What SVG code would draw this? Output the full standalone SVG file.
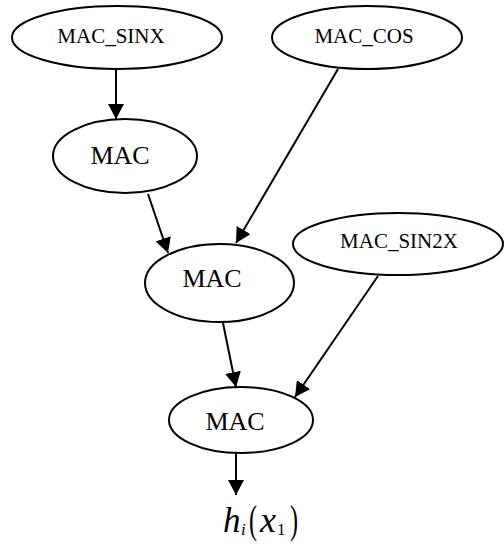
<svg xmlns="http://www.w3.org/2000/svg" width="504" height="544" viewBox="0 0 504 544">
  <style>
    .node ellipse { fill: #ffffff; stroke: #000000; stroke-width: 2; }
    .small { font-family: "Liberation Serif", "Times New Roman", serif; font-size: 21px; fill: #000000; text-anchor: middle; }
    .big { font-family: "Liberation Serif", "Times New Roman", serif; font-size: 26px; fill: #000000; text-anchor: middle; }
    .edge { stroke: #000000; stroke-width: 2; fill: none; marker-end: url(#arrow); }
    .math { font-family: "Liberation Serif", "Times New Roman", serif; fill: #000000; }
  </style>
  <defs>
    <marker id="arrow" markerUnits="userSpaceOnUse" markerWidth="16" markerHeight="16" refX="15" refY="8" orient="auto">
      <path d="M0,0 L15,8 L0,16 z" fill="#000000"/>
    </marker>
  </defs>
  <rect width="504" height="544" fill="#ffffff"/>

  <g id="connectors">
    <line class="edge" x1="116" y1="69" x2="116" y2="119"/>
    <line class="edge" x1="148" y1="194" x2="168" y2="253"/>
    <line class="edge" x1="338" y1="69" x2="236" y2="243"/>
    <line class="edge" x1="223" y1="323" x2="236" y2="387"/>
    <line class="edge" x1="378" y1="276" x2="295" y2="397"/>
    <line class="edge" x1="236" y1="453" x2="236" y2="495"/>
  </g>

  <g id="mac_sinx" class="node">
    <ellipse cx="117" cy="37.5" rx="105" ry="31.5"/>
    <text class="small" x="111" y="43">MAC_SINX</text>
  </g>
  <g id="mac_cos" class="node">
    <ellipse cx="367" cy="37.5" rx="95" ry="31.5"/>
    <text class="small" x="364" y="43">MAC_COS</text>
  </g>
  <g id="mac1" class="node">
    <ellipse cx="125" cy="156" rx="72" ry="37"/>
    <text class="big" x="120" y="164">MAC</text>
  </g>
  <g id="mac2" class="node">
    <ellipse cx="219.5" cy="283" rx="74.5" ry="39"/>
    <text class="big" x="212" y="287">MAC</text>
  </g>
  <g id="mac_sin2x" class="node">
    <ellipse cx="398" cy="244" rx="105" ry="31"/>
    <text class="small" x="399" y="248">MAC_SIN2X</text>
  </g>
  <g id="mac3" class="node">
    <ellipse cx="241" cy="420" rx="72" ry="33"/>
    <text class="big" x="235" y="430">MAC</text>
  </g>

  <!-- h_i(x_1) with tall, narrow parentheses -->
  <g id="output_label">
    <text class="math" x="223" y="532" font-size="35" font-style="italic">h</text>
    <text class="math" x="241" y="535" font-size="17" font-style="italic">i</text>
    <text class="math" transform="translate(249,533) scale(0.62,1)" font-size="39">(</text>
    <text class="math" x="260" y="532" font-size="36" font-style="italic">x</text>
    <text class="math" x="277" y="535" font-size="17">1</text>
    <text class="math" transform="translate(290,533) scale(0.62,1)" font-size="39">)</text>
  </g>
</svg>
